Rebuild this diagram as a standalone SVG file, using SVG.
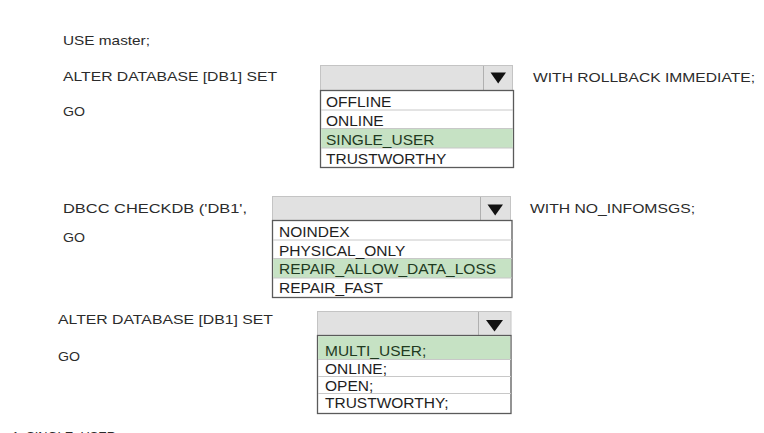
<svg xmlns="http://www.w3.org/2000/svg" width="764" height="433" viewBox="0 0 764 433">
<style>
.stmt{font-family:"Liberation Sans",Arial,sans-serif;font-size:13.5px;fill:#2b2b2b}
.opt{font-family:"Liberation Sans",Arial,sans-serif;font-size:15.5px;fill:#1e1e1e}
.sel{fill:#1f3a1f}
.hdr{fill:#e1e1e1;stroke:#c4c4c4;stroke-width:1}
.div{stroke:#b0b0b0;stroke-width:1}
.list{fill:#ffffff;stroke:#5a5a5a;stroke-width:1.3}
.row{stroke:#c8c8c8;stroke-width:1}
.hl{fill:#c6e2c4}
.tri{fill:#111}
</style>
<rect width="764" height="433" fill="#ffffff"/>

<g id="statements">
<text class="stmt" x="63" y="45" textLength="87" lengthAdjust="spacingAndGlyphs">USE master;</text>
<text class="stmt" x="63" y="81" textLength="214" lengthAdjust="spacingAndGlyphs">ALTER DATABASE [DB1] SET</text>
<text class="stmt" x="63" y="116" textLength="22" lengthAdjust="spacingAndGlyphs">GO</text>
<text class="stmt" x="533" y="82" textLength="222" lengthAdjust="spacingAndGlyphs">WITH ROLLBACK IMMEDIATE;</text>
<text class="stmt" x="63" y="213" textLength="184" lengthAdjust="spacingAndGlyphs">DBCC CHECKDB ('DB1',</text>
<text class="stmt" x="63" y="242" textLength="22" lengthAdjust="spacingAndGlyphs">GO</text>
<text class="stmt" x="530" y="213" textLength="165" lengthAdjust="spacingAndGlyphs">WITH NO_INFOMSGS;</text>
<text class="stmt" x="58" y="324" textLength="215" lengthAdjust="spacingAndGlyphs">ALTER DATABASE [DB1] SET</text>
<text class="stmt" x="58" y="361" textLength="22" lengthAdjust="spacingAndGlyphs">GO</text>
<text class="stmt" x="12" y="441" textLength="104" lengthAdjust="spacingAndGlyphs">1. SINGLE_USER</text>
</g>

<g id="dropdown1">
<rect class="hdr" x="320.5" y="65.5" width="192" height="25"/>
<line class="div" x1="483.5" y1="66" x2="483.5" y2="90"/>
<polygon class="tri" points="490.5,72.5 506,72.5 498.2,83.5"/>
<rect class="list" x="320.5" y="90.5" width="193" height="77"/>
<rect class="hl" x="321.2" y="128.5" width="191.6" height="19.5"/>
<line class="row" x1="321" y1="110" x2="513" y2="110"/>
<line class="row" x1="321" y1="128.5" x2="513" y2="128.5"/>
<line class="row" x1="321" y1="148" x2="513" y2="148"/>
<text class="opt" x="326" y="107">OFFLINE</text>
<text class="opt" x="326" y="126">ONLINE</text>
<text class="opt sel" x="326" y="144.5">SINGLE_USER</text>
<text class="opt" x="326" y="163.5">TRUSTWORTHY</text>
</g>

<g id="dropdown2">
<rect class="hdr" x="272.5" y="196.5" width="238" height="24"/>
<line class="div" x1="480.5" y1="197" x2="480.5" y2="220"/>
<polygon class="tri" points="487.5,204.5 503,204.5 495.2,215.5"/>
<rect class="list" x="272.5" y="220.5" width="239.5" height="77"/>
<rect class="hl" x="273.2" y="258.5" width="238" height="19.5"/>
<line class="row" x1="273" y1="240" x2="512" y2="240"/>
<line class="row" x1="273" y1="258.5" x2="512" y2="258.5"/>
<line class="row" x1="273" y1="278" x2="512" y2="278"/>
<text class="opt" x="279" y="237">NOINDEX</text>
<text class="opt" x="279" y="255.5">PHYSICAL_ONLY</text>
<text class="opt sel" x="279" y="274">REPAIR_ALLOW_DATA_LOSS</text>
<text class="opt" x="279" y="292.5">REPAIR_FAST</text>
</g>

<g id="dropdown3">
<rect class="hdr" x="317.5" y="311.5" width="193.5" height="24"/>
<line class="div" x1="478.5" y1="312" x2="478.5" y2="335"/>
<polygon class="tri" points="486,320 503,320 494.5,331.5"/>
<rect class="list" x="317.5" y="335.5" width="193.5" height="78"/>
<rect class="hl" x="318.2" y="336.2" width="192" height="23"/>
<line class="row" x1="318" y1="359.5" x2="511" y2="359.5"/>
<line class="row" x1="318" y1="376.5" x2="511" y2="376.5"/>
<line class="row" x1="318" y1="393.5" x2="511" y2="393.5"/>
<text class="opt sel" x="325" y="356">MULTI_USER;</text>
<text class="opt" x="325" y="373.5">ONLINE;</text>
<text class="opt" x="325" y="390.5">OPEN;</text>
<text class="opt" x="325" y="408">TRUSTWORTHY;</text>
</g>
</svg>
